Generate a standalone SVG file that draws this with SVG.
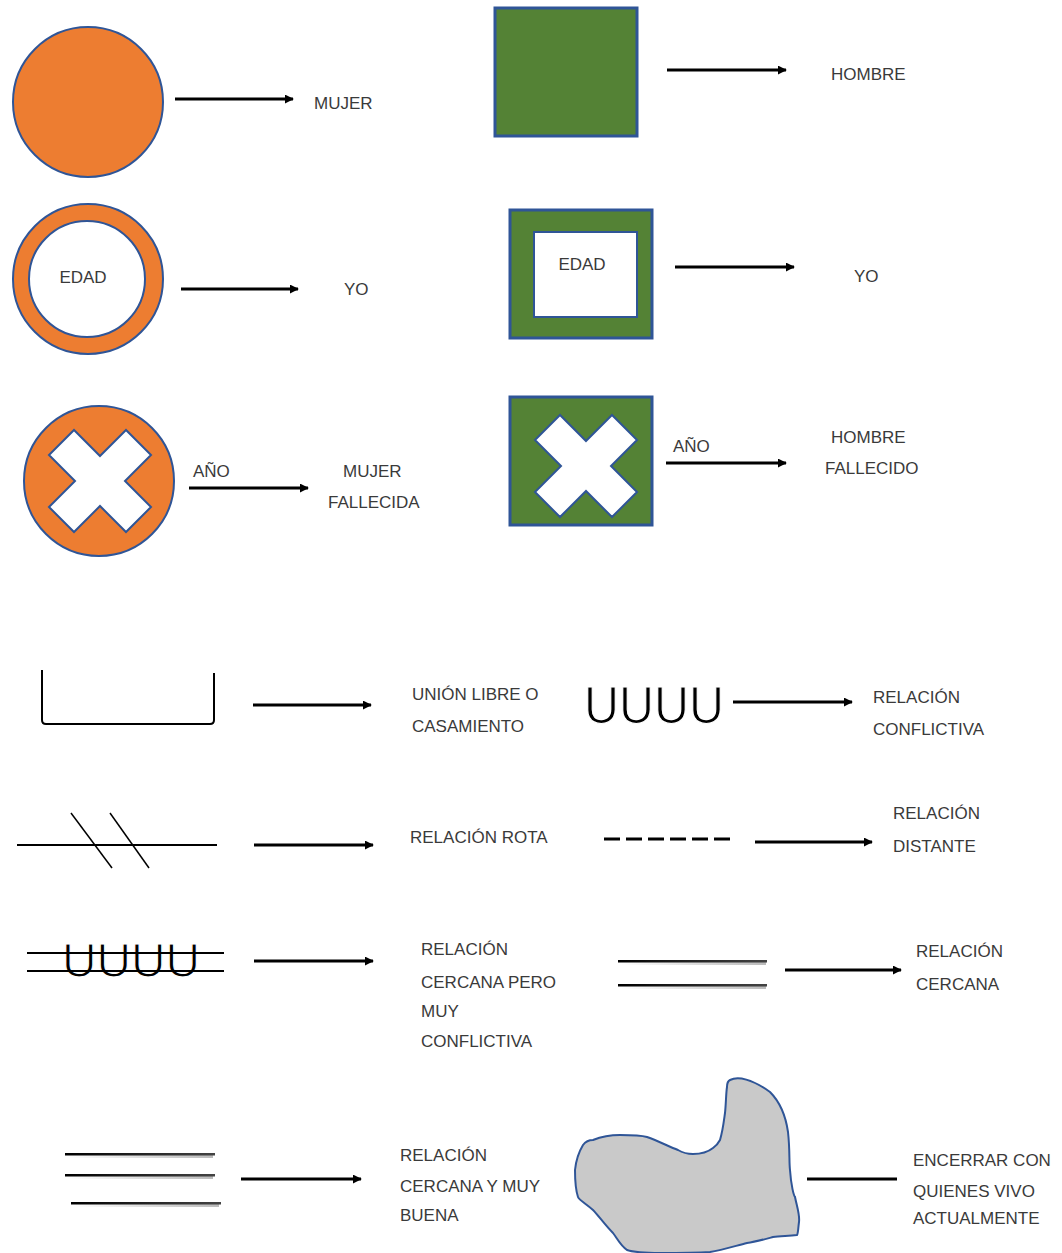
<svg xmlns="http://www.w3.org/2000/svg" width="1062" height="1253" viewBox="0 0 1062 1253">
<style>
.lbl{font-family:"Liberation Sans",Arial,sans-serif;font-size:17px;fill:#3a3a3a}
.org{fill:#ED7D31;stroke:#2F5597;stroke-width:2}
.grn{fill:#548235;stroke:#2F5597;stroke-width:3}
.wht{fill:#FFFFFF;stroke:#2F5597;stroke-width:2}
.arr{stroke:#000;stroke-width:3;fill:none;marker-end:url(#ah)}
.ln{stroke:#000;fill:none;stroke-width:2}
.uu{font-family:"Liberation Sans",Arial,sans-serif;fill:#000;stroke:#fff;stroke-width:1.2}
.bar{fill:url(#gl)}
.shd{fill:url(#gs)}
</style>
<defs>
<marker id="ah" viewBox="0 0 10 10" refX="9" refY="5" markerWidth="9" markerHeight="9" markerUnits="userSpaceOnUse" orient="auto">
<path d="M0,0 L10,5 L0,10 z" fill="#000"/>
</marker>
<linearGradient id="gl" x1="0" y1="0" x2="1" y2="0">
<stop offset="0" stop-color="#000"/>
<stop offset="1" stop-color="#444"/>
</linearGradient>
<linearGradient id="gs" x1="0" y1="0" x2="1" y2="0">
<stop offset="0" stop-color="#fff"/>
<stop offset="1" stop-color="#bbb"/>
</linearGradient>
<polygon id="cross" points="0,-25 26,-51 51,-26 25,0 51,26 26,51 0,25 -26,51 -51,26 -25,0 -51,-26 -26,-51"/>
</defs>

<g id="mujer">
<circle class="org" cx="88" cy="102" r="75"/>
<text class="lbl" x="314" y="109">MUJER</text>
</g>
<g id="hombre">
<rect class="grn" x="495" y="8" width="142" height="128"/>
<text class="lbl" x="831" y="80">HOMBRE</text>
</g>
<g id="yo-mujer">
<circle class="org" cx="88" cy="279" r="75"/>
<circle class="wht" cx="87" cy="279" r="58"/>
<text class="lbl" x="83" y="283" text-anchor="middle">EDAD</text>
<text class="lbl" x="344" y="295">YO</text>
</g>
<g id="yo-hombre">
<rect class="grn" x="510" y="210" width="142" height="128"/>
<rect class="wht" x="534" y="232" width="103" height="85" stroke-width="3"/>
<text class="lbl" x="582" y="270" text-anchor="middle">EDAD</text>
<text class="lbl" x="854" y="282">YO</text>
</g>
<g id="mujer-fallecida">
<circle class="org" cx="99" cy="481" r="75"/>
<use href="#cross" x="100" y="481" class="wht"/>
<text class="lbl" x="193" y="477">AÑO</text>
<text class="lbl" x="343" y="477">MUJER</text>
<text class="lbl" x="328" y="508">FALLECIDA</text>
</g>
<g id="hombre-fallecido">
<rect class="grn" x="510" y="397" width="142" height="128"/>
<use href="#cross" x="586" y="466" class="wht"/>
<text class="lbl" x="673" y="452">AÑO</text>
<text class="lbl" x="831" y="443">HOMBRE</text>
<text class="lbl" x="825" y="474">FALLECIDO</text>
</g>

<g id="union">
<path class="ln" d="M42,670 L42,720 Q42,724 46,724 L210,724 Q214,724 214,720 L214,673"/>
<text class="lbl" x="412" y="700">UNIÓN LIBRE O</text>
<text class="lbl" x="412" y="732">CASAMIENTO</text>
</g>
<g id="conflictiva">
<text class="uu" x="584" y="723" font-size="52" textLength="140" lengthAdjust="spacingAndGlyphs">UUUU</text>
<text class="lbl" x="873" y="703">RELACIÓN</text>
<text class="lbl" x="873" y="735">CONFLICTIVA</text>
</g>
<g id="rota">
<line class="ln" x1="17" y1="845" x2="217" y2="845"/>
<line x1="71" y1="813" x2="112" y2="868" stroke="#000" stroke-width="1.5"/>
<line x1="110" y1="813" x2="149" y2="868" stroke="#000" stroke-width="1.5"/>
<text class="lbl" x="410" y="843">RELACIÓN ROTA</text>
</g>
<g id="distante">
<line x1="604" y1="839" x2="733" y2="839" stroke="#000" stroke-width="3" stroke-dasharray="16,6"/>
<text class="lbl" x="893" y="819">RELACIÓN</text>
<text class="lbl" x="893" y="852">DISTANTE</text>
</g>
<g id="cercana-conflictiva">
<text class="uu" x="62" y="977" font-size="48" textLength="138" lengthAdjust="spacingAndGlyphs">UUUU</text>
<line class="ln" x1="27" y1="953" x2="224" y2="953"/>
<line class="ln" x1="27" y1="971" x2="224" y2="971"/>
<text class="lbl" x="421" y="955">RELACIÓN</text>
<text class="lbl" x="421" y="988">CERCANA PERO</text>
<text class="lbl" x="421" y="1017">MUY</text>
<text class="lbl" x="421" y="1047">CONFLICTIVA</text>
</g>
<g id="cercana">
<rect class="shd" x="620" y="962" width="146" height="3"/>
<rect class="bar" x="618" y="960" width="149" height="2.5"/>
<rect class="shd" x="620" y="986" width="146" height="3"/>
<rect class="bar" x="618" y="984" width="149" height="2.5"/>
<text class="lbl" x="916" y="957">RELACIÓN</text>
<text class="lbl" x="916" y="990">CERCANA</text>
</g>
<g id="muy-buena">
<rect class="shd" x="67" y="1155" width="146" height="3"/>
<rect class="bar" x="65" y="1153" width="150" height="2.5"/>
<rect class="shd" x="67" y="1176" width="146" height="3"/>
<rect class="bar" x="65" y="1174" width="150" height="2.5"/>
<rect class="shd" x="73" y="1204" width="146" height="3"/>
<rect class="bar" x="71" y="1202" width="150" height="2.5"/>
<text class="lbl" x="400" y="1161">RELACIÓN</text>
<text class="lbl" x="400" y="1192">CERCANA Y MUY</text>
<text class="lbl" x="400" y="1221">BUENA</text>
</g>
<g id="convivientes">
<path d="M730,1080 C738,1076 752,1079 770,1092 C780,1102 786,1118 788,1132 C790,1150 789,1162 790,1170 C791,1185 794,1197 795,1197 C797,1207 800,1215 799,1222 C798,1230 798,1234 797,1235 C788,1236 780,1236 773,1237 C762,1240 755,1242 747,1243 C735,1246 722,1250 710,1252 C694,1253 675,1253 660,1253 C645,1253 633,1252 627,1250 C620,1245 617,1238 613,1233 C605,1225 598,1215 593,1210 C585,1203 579,1200 578,1197 C575,1188 575,1178 575,1170 C576,1160 580,1150 583,1145 C586,1141 590,1140 593,1140 C603,1136 612,1135 620,1135 C630,1135 640,1135 647,1137 C658,1141 668,1146 678,1150 C683,1153 688,1154 693,1154 C700,1154 708,1152 713,1148 C717,1145 719,1142 720,1140 C723,1130 724,1120 725,1113 C726,1104 726,1093 727,1087 C727,1083 728,1081 730,1080 Z" fill="#C9C9C9" stroke="#2F5597" stroke-width="2"/>
<text class="lbl" x="913" y="1166">ENCERRAR CON</text>
<text class="lbl" x="913" y="1197">QUIENES VIVO</text>
<text class="lbl" x="913" y="1224">ACTUALMENTE</text>
</g>

<g id="connectors">
<line class="arr" x1="175" y1="99" x2="293" y2="99"/>
<line class="arr" x1="667" y1="70" x2="786" y2="70"/>
<line class="arr" x1="181" y1="289" x2="298" y2="289"/>
<line class="arr" x1="675" y1="267" x2="794" y2="267"/>
<line class="arr" x1="189" y1="488" x2="308" y2="488"/>
<line class="arr" x1="666" y1="463" x2="786" y2="463"/>
<line class="arr" x1="253" y1="705" x2="371" y2="705"/>
<line class="arr" x1="733" y1="702" x2="852" y2="702"/>
<line class="arr" x1="254" y1="845" x2="373" y2="845"/>
<line class="arr" x1="755" y1="842" x2="872" y2="842"/>
<line class="arr" x1="254" y1="961" x2="373" y2="961"/>
<line class="arr" x1="785" y1="970" x2="901" y2="970"/>
<line class="arr" x1="241" y1="1179" x2="361" y2="1179"/>
<line x1="807" y1="1179" x2="897" y2="1179" stroke="#000" stroke-width="3"/>
</g>
</svg>
